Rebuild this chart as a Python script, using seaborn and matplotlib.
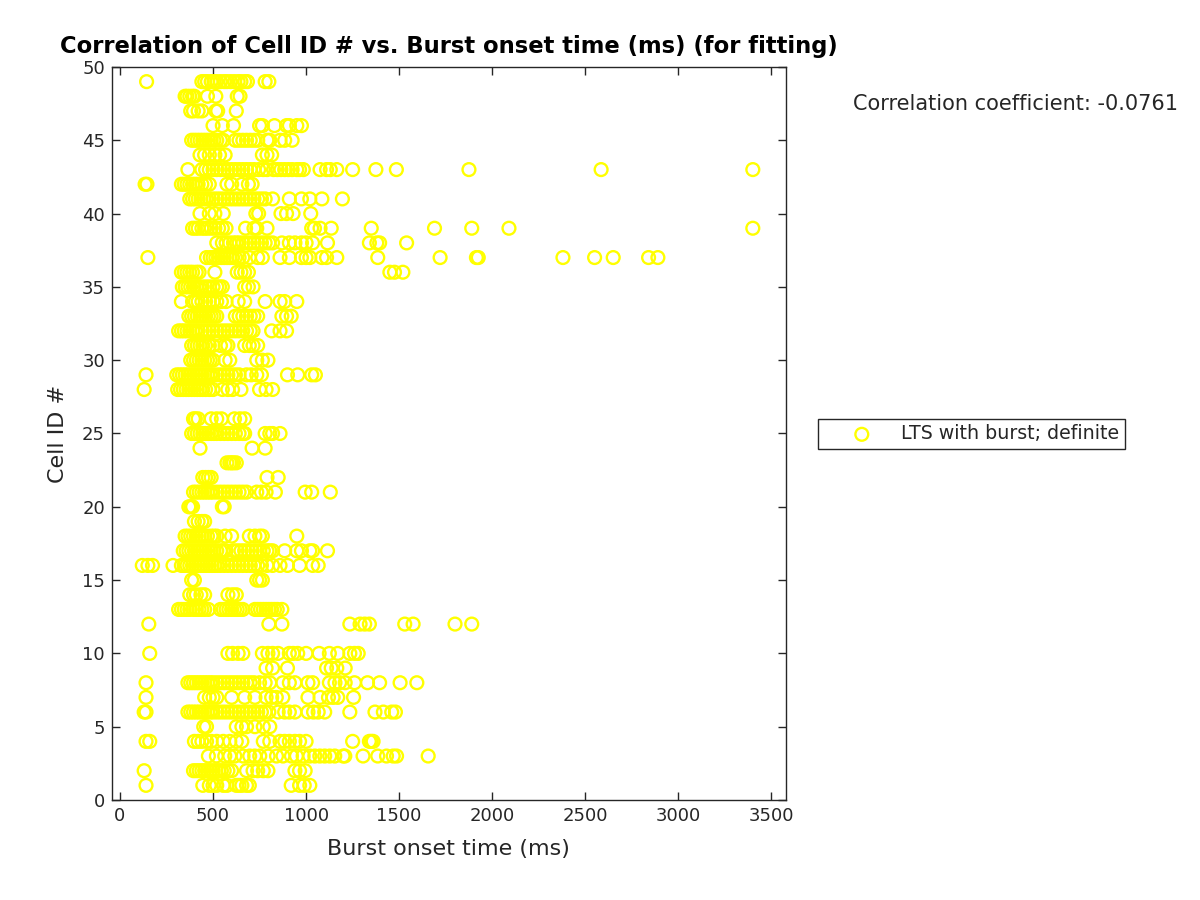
import matplotlib
matplotlib.use("Agg")
import matplotlib.pyplot as plt
import numpy as np
import pandas as pd
import seaborn as sns

# burst onset times (ms), one list per cell
cell_01 = [140, 445, 480, 500, 520, 555, 575, 625, 640, 655, 680, 695, 920, 965, 990, 1020]
cell_02 = [130, 395, 410, 425, 440, 455, 470, 485, 500, 515, 530, 545, 560, 580, 600,
           680, 715, 740, 770, 795, 940, 965, 995]
cell_03 = [475, 518, 563, 590, 617, 661, 697, 724, 751, 796, 841, 876, 921, 948, 984,
           1020, 1047, 1074, 1100, 1127, 1154, 1199, 1208, 1306, 1385, 1432, 1468, 1486, 1656]
cell_04 = [140, 160, 400, 420, 440, 465, 490, 520, 555, 590, 625, 655, 770, 805, 860,
           885, 910, 940, 965, 1000, 1250, 1340, 1350, 1360]
cell_05 = [450, 465, 625, 655, 680, 725, 770, 805]
cell_06 = [130, 140, 365, 380, 395, 410, 425, 440, 455, 470, 485, 500, 520, 540, 560,
           580, 600, 620, 640, 660, 680, 700, 720, 740, 760, 780, 800, 850, 885, 910,
           940, 1010, 1040, 1065, 1100, 1235, 1370, 1415, 1460, 1480]
cell_07 = [140, 455, 480, 500, 520, 600, 670, 725, 785, 815, 840, 875, 1010, 1075, 1120,
           1145, 1170, 1255]
cell_08 = [140, 365, 380, 395, 410, 425, 440, 455, 470, 485, 500, 520, 540, 560, 580,
           600, 620, 640, 660, 680, 700, 720, 750, 780, 805, 875, 910, 940, 1010, 1035,
           1125, 1155, 1180, 1210, 1260, 1330, 1395, 1505, 1595]
cell_09 = [785, 820, 900, 1110, 1135, 1165, 1210]
cell_10 = [160, 580, 605, 635, 660, 765, 795, 820, 850, 910, 930, 955, 1000, 1070, 1125,
           1170, 1235, 1260, 1280]
cell_12 = [155, 800, 870, 1235, 1290, 1315, 1340, 1530, 1575, 1800, 1890]
cell_13 = [315, 330, 345, 360, 375, 395, 410, 425, 440, 455, 475, 540, 555, 570, 585,
           600, 615, 630, 645, 660, 725, 740, 755, 770, 785, 800, 815, 830, 845, 870]
cell_14 = [375, 395, 410, 435, 455, 580, 605, 625]
cell_15 = [385, 400, 735, 750, 765]
cell_16 = [120, 150, 175, 285, 330, 345, 360, 375, 390, 405, 420, 435, 450, 465, 480,
           495, 510, 525, 540, 560, 580, 600, 620, 640, 660, 680, 700, 720, 740, 760,
           790, 820, 860, 900, 965, 1035, 1065]
cell_17 = [340, 355, 370, 385, 400, 415, 430, 445, 460, 475, 490, 505, 520, 540, 555,
           570, 610, 630, 650, 670, 690, 710, 730, 750, 770, 790, 805, 820, 885, 950,
           975, 1020, 1035, 1115]
cell_18 = [350, 365, 380, 395, 410, 425, 440, 455, 470, 490, 505, 520, 565, 600, 695,
           725, 750, 765, 950]
cell_19 = [400, 420, 440, 455]
cell_20 = [370, 380, 390, 550, 560]
cell_21 = [395, 410, 425, 440, 455, 470, 485, 500, 520, 540, 560, 580, 600, 620, 640,
           660, 680, 735, 760, 785, 835, 995, 1030, 1130]
cell_22 = [445, 460, 475, 490, 790, 850]
cell_23 = [575, 590, 600, 610, 625]
cell_24 = [430, 710, 780]
cell_25 = [385, 400, 415, 430, 445, 460, 475, 490, 505, 520, 540, 560, 580, 600, 620,
           640, 660, 670, 780, 805, 820, 860]
cell_26 = [395, 405, 420, 490, 520, 545, 615, 645, 670]
cell_28 = [130, 310, 325, 340, 355, 370, 385, 400, 415, 430, 445, 460, 480, 500, 550,
           580, 605, 650, 750, 785, 820]
cell_29 = [140, 305, 320, 335, 350, 365, 380, 395, 410, 425, 440, 455, 470, 485, 500,
           520, 540, 560, 580, 600, 620, 640, 680, 705, 735, 760, 900, 955, 1030, 1050]
cell_30 = [380, 395, 410, 425, 440, 455, 470, 485, 500, 565, 590, 735, 765, 795]
cell_31 = [385, 400, 415, 430, 445, 460, 480, 500, 540, 565, 580, 670, 695, 715, 740]
cell_32 = [315, 330, 345, 360, 375, 390, 405, 420, 440, 460, 480, 500, 520, 540, 560,
           580, 600, 620, 640, 660, 680, 700, 715, 815, 860, 895]
cell_33 = [370, 385, 400, 415, 430, 445, 460, 475, 490, 505, 520, 620, 640, 660, 680,
           700, 720, 740, 870, 895, 920]
cell_34 = [330, 390, 405, 420, 440, 460, 480, 500, 520, 545, 570, 635, 670, 780, 860,
           885, 950]
cell_35 = [335, 350, 365, 380, 395, 410, 425, 440, 460, 480, 500, 520, 535, 550, 670,
           690, 715]
cell_36 = [330, 345, 360, 375, 390, 410, 425, 510, 630, 650, 670, 690, 1450, 1475, 1520]
cell_37 = [150, 465, 485, 500, 515, 530, 545, 560, 575, 590, 605, 620, 640, 660, 695,
           740, 765, 860, 910, 975, 1000, 1020, 1085, 1110, 1165, 1385, 1720, 1915, 1925,
           2380, 2550, 2650, 2840, 2890]
cell_38 = [520, 550, 570, 590, 610, 625, 640, 660, 680, 700, 720, 740, 760, 780, 800,
           820, 870, 910, 940, 975, 1000, 1035, 1115, 1340, 1380, 1395, 1540]
cell_39 = [390, 405, 420, 440, 455, 470, 490, 510, 530, 550, 570, 675, 720, 735, 790,
           1030, 1045, 1075, 1135, 1350, 1690, 1890, 2090, 3400]
cell_40 = [430, 480, 510, 555, 730, 745, 865, 895, 930, 1025]
cell_41 = [375, 390, 405, 420, 435, 450, 465, 480, 500, 520, 540, 560, 580, 600, 620,
           640, 660, 680, 700, 720, 740, 760, 780, 820, 910, 975, 1020, 1085, 1195]
cell_42 = [135, 145, 330, 345, 360, 375, 390, 405, 420, 440, 460, 480, 575, 600, 655,
           690, 710]
cell_43 = [365, 440, 460, 480, 500, 520, 540, 560, 580, 600, 620, 640, 660, 680, 700,
           720, 745, 770, 790, 825, 845, 865, 885, 905, 925, 950, 965, 985, 1075, 1110,
           1130, 1165, 1250, 1375, 1485, 1875, 2585, 3400]
cell_44 = [430, 455, 480, 510, 535, 565, 765, 790, 815]
cell_45 = [385, 400, 415, 430, 445, 460, 475, 490, 505, 520, 540, 555, 620, 640, 660,
           680, 700, 720, 740, 790, 805, 860, 885, 925]
cell_46 = [500, 550, 610, 750, 765, 830, 895, 910, 950, 975]
cell_47 = [380, 395, 420, 440, 515, 525, 625]
cell_48 = [350, 360, 375, 390, 400, 470, 515, 630, 645]
cell_49 = [143, 440, 455, 470, 490, 505, 520, 540, 560, 575, 595, 615, 635, 650, 670,
           685, 780, 800]

cell_ids = [1, 2, 3, 4, 5, 6, 7, 8, 9, 10, 12, 13, 14, 15, 16, 17, 18, 19, 20, 21, 22,
            23, 24, 25, 26, 28, 29, 30, 31, 32, 33, 34, 35, 36, 37, 38, 39, 40, 41, 42,
            43, 44, 45, 46, 47, 48, 49]
onsets = [cell_01, cell_02, cell_03, cell_04, cell_05, cell_06, cell_07, cell_08, cell_09,
          cell_10, cell_12, cell_13, cell_14, cell_15, cell_16, cell_17, cell_18, cell_19,
          cell_20, cell_21, cell_22, cell_23, cell_24, cell_25, cell_26, cell_28, cell_29,
          cell_30, cell_31, cell_32, cell_33, cell_34, cell_35, cell_36, cell_37, cell_38,
          cell_39, cell_40, cell_41, cell_42, cell_43, cell_44, cell_45, cell_46, cell_47,
          cell_48, cell_49]

corr_text = "Correlation coefficient: -0.0761"
series_label = "LTS with burst; definite"

df = pd.DataFrame(
    [(t, cid) for cid, times in zip(cell_ids, onsets) for t in times],
    columns=["onset", "cell"],
)

sns.set_theme(style="ticks")
plt.rcParams["font.family"] = ["DejaVu Sans"]

fig = plt.figure(figsize=(12, 9), dpi=100)
ax = fig.add_axes([0.0933, 0.1111, 0.5615, 0.8145])

yellow = "#FFFF00"
sns.scatterplot(data=df, x="onset", y="cell", ax=ax, marker="o", s=85,
                facecolors="none", edgecolor=yellow, linewidth=1.7,
                label=series_label)

ax.set_xlim(-43, 3577)
ax.set_ylim(0, 50)
ax.set_xticks(np.arange(0, 3501, 500))
ax.set_yticks(np.arange(0, 51, 5))

dark = "#262626"
for side in ax.spines.values():
    side.set_color(dark)
    side.set_linewidth(1.0)
ax.tick_params(direction="in", top=True, right=True, length=6, width=1.0,
               colors=dark, labelsize=13, labelcolor=dark, pad=5)

ax.set_xlabel("Burst onset time (ms)", fontsize=16, color=dark, labelpad=10)
ax.set_ylabel("Cell ID #", fontsize=16, color=dark, labelpad=10)
ax.set_title("Correlation of Cell ID # vs. Burst onset time (ms) (for fitting)",
             fontsize=16.3, fontweight="bold", pad=10, color="black")

fig.text(0.711, 0.884, corr_text, fontsize=15, ha="left", va="center")

leg = ax.legend(loc="center left", bbox_to_anchor=(0.6817, 0.518),
                bbox_transform=fig.transFigure, frameon=True, fancybox=False,
                fontsize=13.7, handlelength=4.0, handletextpad=0.05,
                borderpad=0.3, borderaxespad=0,
                edgecolor=dark, framealpha=1)
leg.get_frame().set_linewidth(1.0)

fig.savefig("out.png", dpi=100)
